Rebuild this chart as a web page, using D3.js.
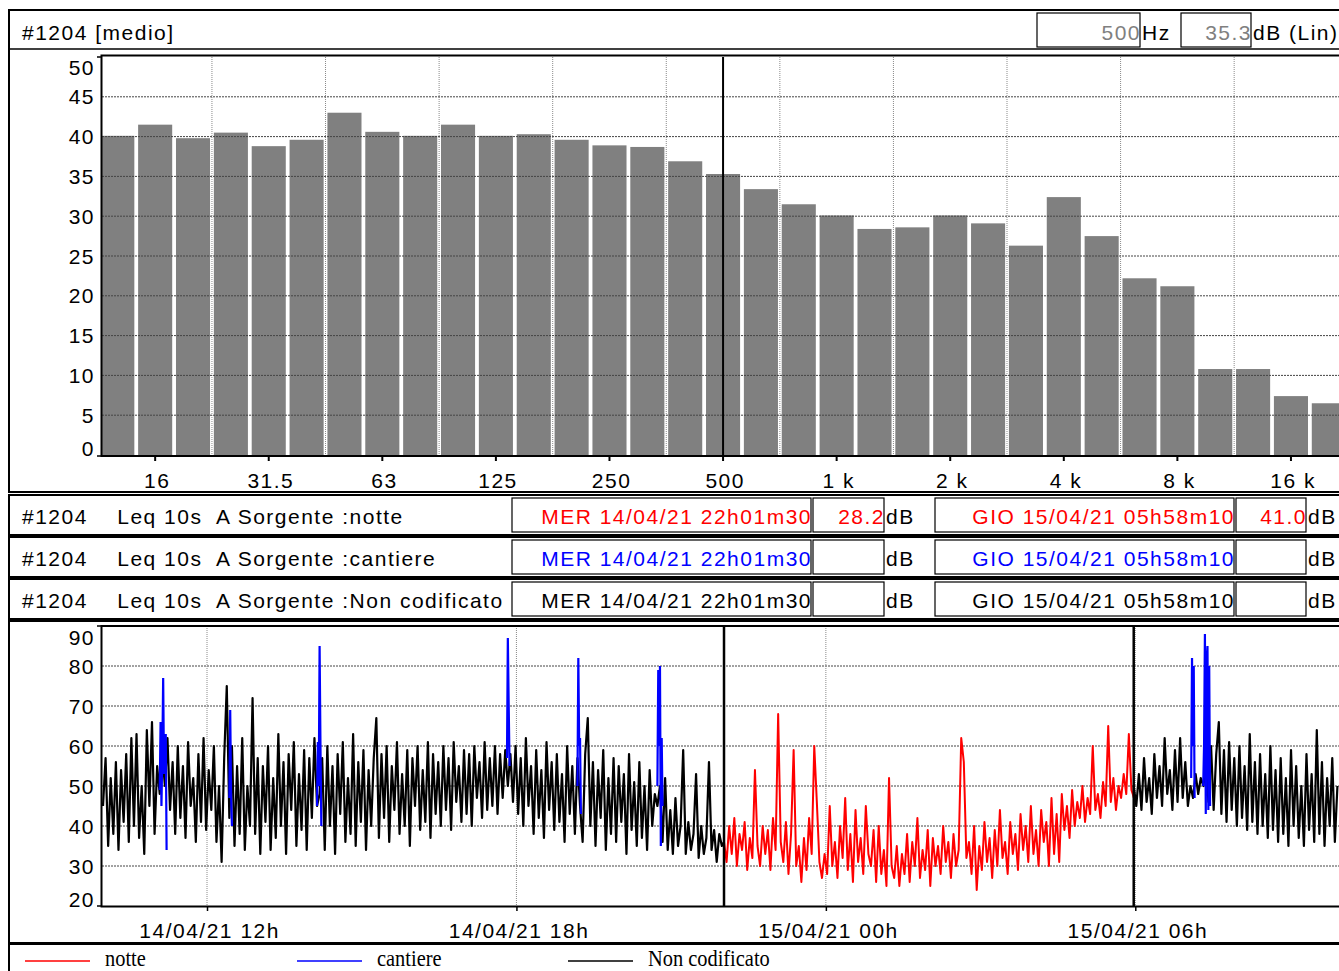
<!DOCTYPE html>
<html>
<head>
<meta charset="utf-8">
<script src="https://cdn.jsdelivr.net/npm/d3@7"></script>
<style>
body { margin: 0; background: #fff; }
svg { display: block; font-family: "Liberation Sans", Arial, sans-serif; }
.lbl { font-size: 21px; letter-spacing: 1.5px; white-space: pre; }
</style>
</head>
<body>
<svg id="chart" width="1339" height="971"></svg>
<script>
// 1/3 octave spectrum (Leq medio)
const bands = ["12.5","16","20","25","31.5","40","50","63","80","100","125","160","200","250","315","400",
  "500","630","800","1 k","1.25 k","1.6 k","2 k","2.5 k","3.15 k","4 k","5 k","6.3 k","8 k","10 k","12.5 k","16 k","20 k"];
const bandLevels = [40.1, 41.5, 39.8, 40.5, 38.8, 39.6, 43.0, 40.6, 40.1, 41.5, 40.1, 40.3, 39.6, 38.9, 38.7, 36.9,
  35.3, 33.4, 31.5, 30.1, 28.4, 28.6, 30.1, 29.1, 26.3, 32.4, 27.5, 22.2, 21.2, 10.8, 10.8, 7.4, 6.5];
const bandTicks = ["16","31.5","63","125","250","500","1 k","2 k","4 k","8 k","16 k"];
const levelTicks = [0, 5, 10, 15, 20, 25, 30, 35, 40, 45, 50];

// Leq 10s time history, one value every 3 minutes
const dayStart = "2021-04-14 09:59:00";   // non codificato
const leqDay = [
  45,57,35,52,38,56,34,54,41,58, 36,62,40,63,37,50,33,64,45,66,
  38,55,48,58,50,62,44,56,38,60, 42,55,37,61,45,52,36,58,41,62,
  39,54,44,60,36,50,31,57,75,42, 60,35,55,38,62,34,50,40,72,38,
  57,33,55,41,60,34,52,37,63,40, 56,33,58,44,61,35,53,39,59,34,
  57,42,62,45,48,57,34,60,40,55, 33,58,43,61,36,52,38,63,35,56,
  41,59,34,54,40,57,67,37,58,42, 60,36,55,44,61,38,53,40,59,35,
  57,45,60,39,54,41,61,37,58,43, 56,40,60,44,57,39,61,46,55,41,
  59,43,58,40,60,47,56,42,61,44, 57,45,60,43,58,47,59,50,58,46,
  60,43,57,40,62,45,55,38,59,42, 54,37,61,44,56,39,58,41,53,36,
  60,43,55,38,57,45,36,58,67,40, 56,35,54,42,59,34,52,38,57,36,
  55,41,53,33,58,39,51,35,56,37, 50,34,54,40,48,45,50,36,52,34,
  44,33,47,35,40,59,33,41,34,38, 53,32,40,33,37,56,34,39,31,38,
  35];
const nightStart = "2021-04-14 22:01:30"; // notte
const leqNight = [
  36,31,40,33,42,30,38,34,41,29, 37,32,54,35,30,40,33,39,29,42,
  34,68,36,31,41,28,38,59,30,35, 26,37,29,42,33,60,46,31,27,33,
  28,45,30,36,27,40,32,47,29,38, 26,44,31,37,28,45,33,30,39,26,
  40,28,34,25,52,30,27,35,25,33, 28,38,26,36,30,42,27,34,29,39,
  25,37,30,35,28,40,31,36,27,38, 30,34,62,56,32,36,28,40,24,35,
  29,41,31,37,27,39,30,44,32,36, 28,41,33,38,29,43,34,40,31,45,
  33,39,30,44,36,41,30,47,33,43, 31,48,39,45,37,49,40,46,42,50,
  41,47,43,60,44,48,42,51,45,65, 46,52,44,50,47,53,48,63,49,47];
const morningStart = "2021-04-15 05:58:10"; // non codificato
const leqMorning = [
  50,45,53,44,57,46,52,43,58,47, 55,45,62,48,54,44,59,46,62,47,
  56,45,50,47,53,48,52,50,55,46, 60,44,58,66,43,59,41,61,44,57,
  40,60,42,55,39,63,41,56,38,58, 40,53,37,60,39,54,36,57,38,52,
  35,59,40,55,37,50,35,58,39,53, 36,64,38,56,35,52,40,57,36,50];
// cantiere events, one value per minute
const cantiereStarts = ["2021-04-14 11:05:00","2021-04-14 12:26:00","2021-04-14 14:08:00","2021-04-14 17:49:00",
  "2021-04-14 19:11:00","2021-04-14 20:44:00","2021-04-15 07:05:00","2021-04-15 07:19:00"];
const cantiereValues = [[49,66,45,58,77,53,60,63,34],[47,69,48,40],[45,61,50,85,60,40],[57,87,70,55],
  [50,82,60,62,43],[50,79,60,80,35,62,45],[52,82,60,80,47],[50,60,88,43,81,85,44,80,45]];
const timeTicks = ["2021-04-14 12:00:00","2021-04-14 18:00:00","2021-04-15 00:00:00","2021-04-15 06:00:00"];
const cursorTimes = ["2021-04-14 22:01:30","2021-04-15 05:58:10"];
const dbTicks = [20, 30, 40, 50, 60, 70, 80, 90];

const rows = [
  {src: "notte", color: "#ff0000", from: "MER 14/04/21 22h01m30", v1: "28.2", to: "GIO 15/04/21 05h58m10", v2: "41.0"},
  {src: "cantiere", color: "#0000ff", from: "MER 14/04/21 22h01m30", v1: "", to: "GIO 15/04/21 05h58m10", v2: ""},
  {src: "Non codificato", color: "#000000", from: "MER 14/04/21 22h01m30", v1: "", to: "GIO 15/04/21 05h58m10", v2: ""}
];

const parse = d3.timeParse("%Y-%m-%d %H:%M:%S");
function series(start, stepSec, vals) {
  const t0 = +parse(start);
  return vals.map((v, i) => ({t: new Date(t0 + i * stepSec * 1000), v: v}));
}

const svg = d3.select("#chart");
const W = 1339;

function box(x, y, w, h, sw) {
  svg.append("rect").attr("x", x).attr("y", y).attr("width", w).attr("height", h)
    .attr("fill", "none").attr("stroke", "#000").attr("stroke-width", sw || 1.5);
}
function txt(x, y, s, color, anchor) {
  return svg.append("text").attr("class", "lbl").attr("x", x).attr("y", y)
    .attr("fill", color || "#000").attr("text-anchor", anchor || "start").text(s);
}

// ---------- panel 1 : spectrum ----------
box(9, 10, W, 482, 2);
svg.append("line").attr("x1", 9).attr("x2", W).attr("y1", 49).attr("y2", 49).attr("stroke", "#000").attr("stroke-width", 1.5);
txt(22, 40, "#1204 [medio]");
box(1037, 13, 103, 34, 1.2);
box(1181, 13, 70, 34, 1.2);
txt(1141, 40, "500", "#808080", "end");
txt(1142, 40, "Hz");
txt(1252, 40, "35.3", "#808080", "end");
txt(1253, 40, "dB (Lin)");

const step = 37.86, bx0 = 117.3 - step / 2;
const xb = d3.scaleBand().domain(bands).range([bx0, bx0 + step * bands.length]).paddingInner(0.1).paddingOuter(0.05);
const yb = d3.scaleLinear().domain([0, 50]).range([455, 57]);

svg.append("clipPath").attr("id", "clipB").append("rect").attr("x", 102).attr("y", 55).attr("width", W - 102).attr("height", 401);
svg.append("clipPath").attr("id", "clipT").append("rect").attr("x", 102).attr("y", 626).attr("width", W - 102).attr("height", 280);

const gb = svg.append("g").attr("clip-path", "url(#clipB)");
gb.selectAll("rect.bar").data(bands).enter().append("rect").attr("class", "bar")
  .attr("x", d => xb(d)).attr("width", xb.bandwidth())
  .attr("y", (d, i) => yb(bandLevels[i])).attr("height", (d, i) => yb(0) - yb(bandLevels[i]))
  .attr("fill", "#808080");
// vertical grid every 3 bands
gb.selectAll("line.vg").data(d3.range(0, bands.length, 3)).enter().append("line")
  .attr("x1", i => bx0 + i * step).attr("x2", i => bx0 + i * step).attr("y1", 55).attr("y2", 455)
  .attr("stroke", "#8a8a8a").attr("stroke-width", 1).attr("stroke-dasharray", "1,1");
gb.selectAll("line.hg").data(levelTicks.slice(1, -1)).enter().append("line")
  .attr("x1", 102).attr("x2", W).attr("y1", d => yb(d)).attr("y2", d => yb(d))
  .attr("stroke", "#444").attr("stroke-width", 1).attr("stroke-dasharray", "2,1");
gb.append("line").attr("x1", xb("500") + xb.bandwidth() / 2).attr("x2", xb("500") + xb.bandwidth() / 2)
  .attr("y1", 57).attr("y2", 455).attr("stroke", "#000").attr("stroke-width", 2);

svg.append("path").attr("d", `M${W},55.5H101.5V456H${W}`).attr("fill", "none").attr("stroke", "#000").attr("stroke-width", 2);
svg.append("path").attr("d", "M97,57H101 M97,456H101").attr("stroke", "#000").attr("stroke-width", 1.5);

const axB = svg.append("g").attr("transform", "translate(0,456)")
  .call(d3.axisBottom(xb).tickValues(bandTicks).tickSize(5).tickPadding(12));
axB.select(".domain").remove();
axB.selectAll("line").attr("stroke-width", 2);
axB.selectAll("text").attr("class", "lbl").attr("font-family", null).attr("font-size", null).attr("dx", "0.1em");

svg.selectAll("text.yb").data(levelTicks).enter().append("text").attr("class", "lbl")
  .attr("x", 95).attr("y", d => Math.min(448, Math.max(67, yb(d)))).attr("dy", "0.36em")
  .attr("text-anchor", "end").attr("fill", "#000").text(d => d);

// ---------- info rows ----------
rows.forEach((r, k) => {
  const y = 495 + 42 * k;
  box(9, y, W, 40, 2);
  txt(22, y + 29, "#1204    Leq 10s  A Sorgente :" + r.src);
  box(512, y + 3, 299, 34, 1.2);
  box(813, y + 3, 71, 34, 1.2);
  box(935, y + 3, 299, 34, 1.2);
  box(1236, y + 3, 70, 34, 1.2);
  txt(812, y + 29, r.from, r.color, "end");
  txt(885, y + 29, r.v1, r.color, "end");
  txt(886, y + 29, "dB");
  txt(1235, y + 29, r.to, r.color, "end");
  txt(1307, y + 29, r.v2, r.color, "end");
  txt(1308, y + 29, "dB");
});

// ---------- panel 3 : time history ----------
box(9, 621, W, 322, 2);
const xt = d3.scaleTime().domain([parse("2021-04-14 09:59:00"), parse("2021-04-15 09:57:00")]).range([103, 1339]);
const yt = d3.scaleLinear().domain([20, 90]).range([906, 626]);

const gt = svg.append("g").attr("clip-path", "url(#clipT)");
gt.selectAll("line.hg").data(dbTicks.slice(1, -1)).enter().append("line")
  .attr("x1", 102).attr("x2", W).attr("y1", d => yt(d)).attr("y2", d => yt(d))
  .attr("stroke", "#444").attr("stroke-width", 1).attr("stroke-dasharray", "2,1");
gt.selectAll("line.vg").data(timeTicks.map(parse)).enter().append("line")
  .attr("x1", d => xt(d)).attr("x2", d => xt(d)).attr("y1", 626).attr("y2", 906)
  .attr("stroke", "#8a8a8a").attr("stroke-width", 1).attr("stroke-dasharray", "1,1");

const line = d3.line().x(d => xt(d.t)).y(d => yt(d.v));
const day = series(dayStart, 180, leqDay);
const night = series(nightStart, 180, leqNight);
const morning = series(morningStart, 180, leqMorning);
gt.append("path").datum(day.concat([night[0]])).attr("d", line)
  .attr("fill", "none").attr("stroke", "#000").attr("stroke-width", 2.2).attr("stroke-linejoin", "round");
gt.append("path").datum([night[night.length - 1]].concat(morning)).attr("d", line)
  .attr("fill", "none").attr("stroke", "#000").attr("stroke-width", 2.2).attr("stroke-linejoin", "round");
gt.append("path").datum(night).attr("d", line)
  .attr("fill", "none").attr("stroke", "#ff0000").attr("stroke-width", 2).attr("stroke-linejoin", "round");
cantiereStarts.forEach((s, k) => {
  gt.append("path").datum(series(s, 60, cantiereValues[k])).attr("d", line)
    .attr("fill", "none").attr("stroke", "#0000ff").attr("stroke-width", 2.2);
});
gt.selectAll("line.cur").data(cursorTimes.map(parse)).enter().append("line")
  .attr("x1", d => xt(d)).attr("x2", d => xt(d)).attr("y1", 626).attr("y2", 906)
  .attr("stroke", "#000").attr("stroke-width", 2.5);

svg.append("path").attr("d", `M${W},626H101.5V906.5H${W}`).attr("fill", "none").attr("stroke", "#000").attr("stroke-width", 2);
svg.append("path").attr("d", "M97,626H101 M97,906H101").attr("stroke", "#000").attr("stroke-width", 1.5);

const axT = svg.append("g").attr("transform", "translate(0,906)")
  .call(d3.axisBottom(xt).tickValues(timeTicks.map(parse)).tickFormat(d3.timeFormat("%d/%m/%y %Hh")).tickSize(5).tickPadding(12));
axT.select(".domain").remove();
axT.selectAll("line").attr("stroke-width", 1.5);
axT.selectAll("text").attr("class", "lbl").attr("font-family", null).attr("font-size", null).attr("dx", "0.1em");

svg.selectAll("text.yt").data(dbTicks).enter().append("text").attr("class", "lbl")
  .attr("x", 95).attr("y", d => Math.min(899, Math.max(637, yt(d)))).attr("dy", "0.36em")
  .attr("text-anchor", "end").attr("fill", "#000").text(d => d);

// ---------- legend ----------
box(9, 944, W, 40, 2);
const legend = [{name: "notte", color: "#ff0000", x: 25}, {name: "cantiere", color: "#0000ff", x: 297}, {name: "Non codificato", color: "#000000", x: 568}];
legend.forEach(l => {
  svg.append("line").attr("x1", l.x).attr("x2", l.x + 65).attr("y1", 961).attr("y2", 961)
    .attr("stroke", l.color).attr("stroke-width", 1.5);
  svg.append("text").attr("transform", `translate(${l.x + 80},966) scale(0.85,1)`)
    .attr("font-family", "'Liberation Serif', 'Times New Roman', serif").attr("font-size", 24)
    .attr("fill", "#000").text(l.name);
});
</script>
</body>
</html>
